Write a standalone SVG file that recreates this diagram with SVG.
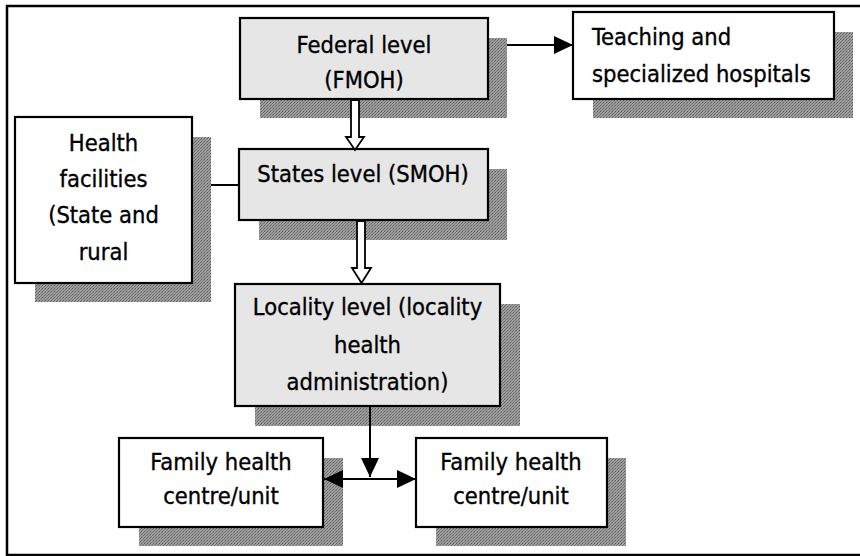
<svg xmlns="http://www.w3.org/2000/svg" width="860" height="556" viewBox="0 0 860 556">
<defs>
<pattern id="dots" width="3" height="3" patternUnits="userSpaceOnUse">
<rect width="3" height="3" fill="#9e9e9e"/>
<rect x="0" y="0" width="1" height="1" fill="#5e5e5e"/>
<rect x="2" y="1" width="1" height="1" fill="#6e6e6e"/>
<rect x="1" y="2" width="1" height="1" fill="#7a7a7a"/>
</pattern>
<marker id="arr" markerUnits="userSpaceOnUse" markerWidth="19" markerHeight="18" viewBox="0 0 19 18" refX="19" refY="9" orient="auto-start-reverse">
<path d="M0,0 L19,9 L0,18 Z" fill="#000"/>
</marker>
<style>
.box{stroke:#000;stroke-width:2.2}
.w{fill:#fff}
.g{fill:#e6e6e6}
.sh{fill:url(#dots)}
.t{font-family:"DejaVu Sans Condensed","DejaVu Sans",sans-serif;font-stretch:condensed;font-size:23.5px;fill:#000;stroke:#000;stroke-width:0.35;text-anchor:middle}
.tl{text-anchor:start}
.ln{stroke:#000;stroke-width:2;fill:none}
.blk{fill:#fff;stroke:#000;stroke-width:1.8}
</style>
</defs>
<rect width="860" height="556" fill="#fff"/>
<rect x="7" y="6" width="860" height="549" fill="none" stroke="#000" stroke-width="2.5"/>

<g id="federal">
<rect class="sh" x="260" y="38" width="247" height="80"/>
<rect class="box g" x="240" y="18" width="248" height="81"/>
<text class="t" x="364" y="53">Federal level</text>
<text class="t" x="364" y="88">(FMOH)</text>
</g>

<g id="teaching">
<rect class="sh" x="593" y="32" width="260" height="86"/>
<rect class="box w" x="573" y="12" width="261" height="87"/>
<text class="t tl" x="592" y="45">Teaching and</text>
<text class="t tl" x="592" y="82">specialized hospitals</text>
</g>

<g id="health-facilities">
<rect class="sh" x="35" y="137" width="176" height="165"/>
<rect class="box w" x="15" y="117" width="177" height="166"/>
<text class="t" x="103.5" y="151">Health</text>
<text class="t" x="103.5" y="187">facilities</text>
<text class="t" x="103.5" y="223">(State and</text>
<text class="t" x="103.5" y="260">rural</text>
</g>

<g id="states">
<rect class="sh" x="259" y="169" width="248" height="71"/>
<rect class="box g" x="239" y="149" width="249" height="71"/>
<text class="t" x="363" y="182">States level (SMOH)</text>
</g>

<g id="locality">
<rect class="sh" x="255" y="304" width="265" height="122"/>
<rect class="box g" x="235" y="284" width="265" height="122"/>
<text class="t" x="367.5" y="315">Locality level (locality</text>
<text class="t" x="367.5" y="353">health</text>
<text class="t" x="367.5" y="390">administration)</text>
</g>

<g id="family-left">
<rect class="sh" x="139" y="458" width="204" height="88"/>
<rect class="box w" x="119" y="438" width="204" height="89"/>
<text class="t" x="221" y="470">Family health</text>
<text class="t" x="221" y="504">centre/unit</text>
</g>

<g id="family-right">
<rect class="sh" x="436" y="458" width="190" height="88"/>
<rect class="box w" x="416" y="438" width="191" height="89"/>
<text class="t" x="511" y="470">Family health</text>
<text class="t" x="511" y="504">centre/unit</text>
</g>

<g id="connectors">
<line class="ln" x1="507" y1="45" x2="573" y2="45" marker-end="url(#arr)"/>
<line class="ln" x1="211" y1="185" x2="239" y2="185"/>
<polygon class="blk" points="351,100 359,100 359,137 364,137 355,150 346,137 351,137"/>
<polygon class="blk" points="357,221 365,221 365,268 371,268 361.5,283 352,268 357,268"/>
<line class="ln" x1="370" y1="407" x2="370" y2="477" marker-end="url(#arr)"/>
<line class="ln" x1="324" y1="479" x2="416" y2="479" marker-start="url(#arr)" marker-end="url(#arr)"/>
</g>
</svg>
